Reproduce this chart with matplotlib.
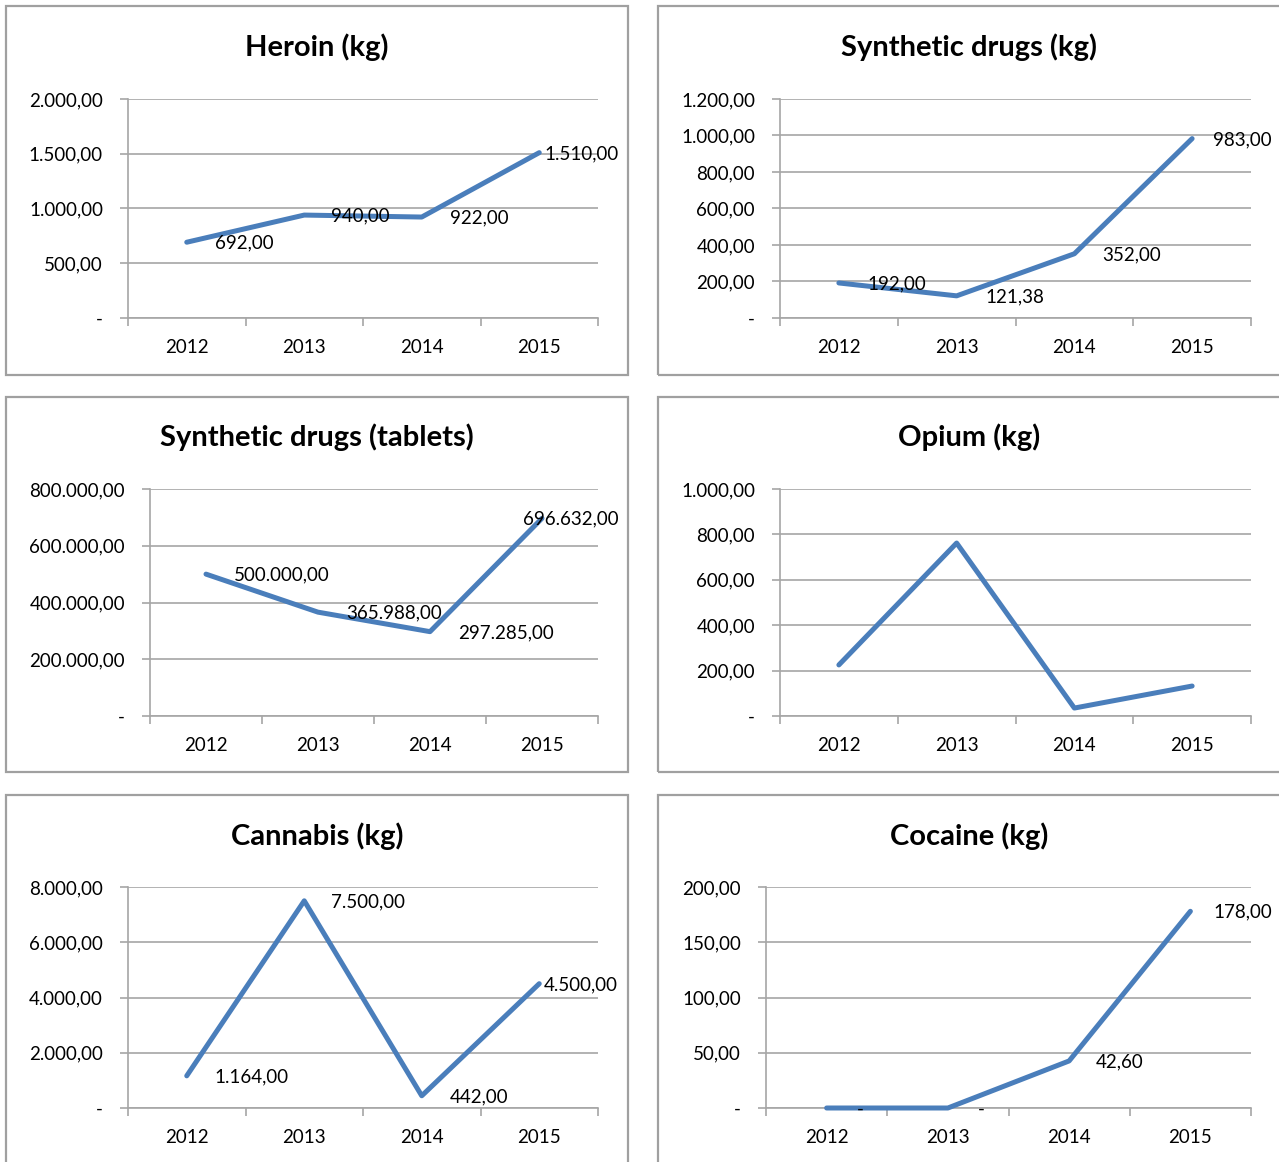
import numpy as np
import matplotlib
matplotlib.use("Agg")
import matplotlib.pyplot as plt
from matplotlib.patches import Rectangle
from matplotlib.ticker import FuncFormatter, MultipleLocator

plt.rcParams['font.family'] = ['Lato', 'DejaVu Sans']

years = ['2012', '2013', '2014', '2015']

heroin_kg = [692.00, 940.00, 922.00, 1510.00]
synthetic_kg = [192.00, 121.38, 352.00, 983.00]
synthetic_tablets = [500000.00, 365988.00, 297285.00, 696632.00]
opium_kg = [225.0, 762.0, 35.0, 132.0]        # no labels in the source
cannabis_kg = [1164.00, 7500.00, 442.00, 4500.00]
cocaine_kg = [0.00, 0.00, 42.60, 178.00]

W, H = 1279, 1162
LINE = '#4a7ebb'
GRID = '#a6a6a6'
FS = 13.5


def euro(v, pos=None):
    # Excel style: 1.234,56 and a dash for zero
    if abs(v) < 1e-9:
        return '-'
    s = f"{v:,.2f}"
    return s.replace(',', '#').replace('.', ',').replace('#', '.')


def fig_box(x0, x1, ytop, ybot):
    return [x0 / W, 1 - ybot / H, (x1 - x0) / W, (ybot - ytop) / H]


# panel frame (px), plot area (px), title y, ymax, step, label x offsets (px)
panels = [
    ('Heroin (kg)', heroin_kg, (6, 628, 6, 375), (128, 598, 99, 318), 47,
     2000, 500, [28, 27, 28, 5]),
    ('Synthetic drugs (kg)', synthetic_kg, (658, 1290, 6, 375), (780, 1251, 99, 318), 47,
     1200, 200, [29, 29, 28, 21]),
    ('Synthetic drugs (tablets)', synthetic_tablets, (6, 628, 397, 772), (150, 598, 489, 716), 437,
     800000, 200000, [28, 28, 28, -19]),
    ('Opium (kg)', opium_kg, (658, 1290, 397, 772), (780, 1251, 489, 716), 437,
     1000, 200, None),
    ('Cannabis (kg)', cannabis_kg, (6, 628, 795, 1175), (128, 598, 887, 1108), 836,
     8000, 2000, [28, 27, 28, 5]),
    ('Cocaine (kg)', cocaine_kg, (658, 1290, 795, 1175), (766, 1251, 887, 1108), 836,
     200, 50, [30, 30, 27, 23]),
]

fig = plt.figure(figsize=(W / 100, H / 100), dpi=100)
fig.patch.set_facecolor('white')

for title, vals, frame, area, ty, ymax, step, offs in panels:
    fx0, fx1, fy0, fy1 = frame
    fig.add_artist(Rectangle((fx0 / W, 1 - fy1 / H), (fx1 - fx0) / W, (fy1 - fy0) / H,
                             transform=fig.transFigure, fill=False,
                             edgecolor='#a0a0a0', linewidth=1.6))
    fig.text(((fx0 + min(fx1, W + 1)) / 2) / W, 1 - ty / H, title,
             ha='center', va='center', fontsize=21, fontweight='bold')

    ax = fig.add_axes(fig_box(*area))
    x = np.arange(len(years))
    ax.plot(x, vals, color=LINE, linewidth=3.6, solid_capstyle='round',
            solid_joinstyle='round', zorder=3, clip_on=False)

    ax.set_xlim(-0.5, len(years) - 0.5)
    ax.set_ylim(0, ymax)
    ax.yaxis.set_major_locator(MultipleLocator(step))
    ax.yaxis.set_major_formatter(FuncFormatter(euro))
    ax.set_xticks(x)
    ax.set_xticklabels(years)
    ax.set_xticks(np.arange(-0.5, len(years)), minor=True)
    ax.tick_params(axis='x', which='major', length=0, pad=15, labelsize=FS)
    ax.tick_params(axis='x', which='minor', length=6, color=GRID, width=1.2)
    ax.tick_params(axis='y', length=6, color=GRID, width=1.2, pad=12, labelsize=FS)

    ax.grid(axis='y', color=GRID, linewidth=1.2, zorder=0)
    for s in ('top', 'right'):
        ax.spines[s].set_visible(False)
    for s in ('left', 'bottom'):
        ax.spines[s].set_color(GRID)
        ax.spines[s].set_linewidth(1.2)
    ax.set_axisbelow(True)

    if offs is not None:
        for i, v in enumerate(vals):
            ax.annotate(euro(v), (x[i], v), xytext=(offs[i], -1),
                        textcoords='offset pixels', ha='left', va='center',
                        fontsize=FS, zorder=4, annotation_clip=False)

fig.savefig('out.png', dpi=100)
